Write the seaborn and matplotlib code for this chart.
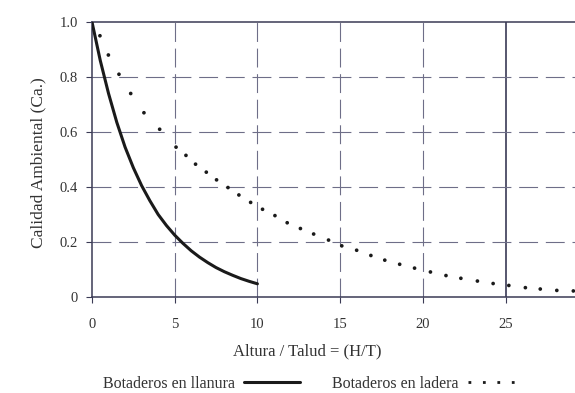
import matplotlib
matplotlib.use("Agg")

import matplotlib.pyplot as plt
from matplotlib.lines import Line2D
import pandas as pd
import seaborn as sns

# -- data ------------------------------------------------------------
llanura_x = [0, 0.25, 0.5, 0.75, 1, 1.5, 2, 2.5, 3, 3.5, 4, 4.5, 5, 5.5, 6, 6.5, 7, 7.5,
             8, 8.5, 9, 9.5, 10]
llanura_y = [1.0, 0.93, 0.86, 0.80, 0.74, 0.635, 0.545, 0.47, 0.405, 0.35, 0.30, 0.26,
             0.225, 0.195, 0.168, 0.145, 0.125, 0.107, 0.092, 0.079, 0.067, 0.057, 0.048]

ladera_x = [0.48, 0.99, 1.63, 2.34, 3.14, 4.09, 5.08, 5.68, 6.26, 6.91, 7.53, 8.22, 8.88,
            9.59, 10.31, 11.06, 11.8, 12.6, 13.4, 14.3, 15.1, 16.0, 16.86, 17.7, 18.6,
            19.5, 20.46, 21.4, 22.3, 23.3, 24.25, 25.2, 26.2, 27.1, 28.1, 29.1]
ladera_y = [0.95, 0.88, 0.81, 0.74, 0.67, 0.61, 0.545, 0.515, 0.483, 0.454, 0.426, 0.398,
            0.371, 0.344, 0.319, 0.296, 0.27, 0.249, 0.229, 0.207, 0.186, 0.17, 0.151,
            0.134, 0.119, 0.105, 0.091, 0.078, 0.068, 0.058, 0.049, 0.042, 0.034, 0.029,
            0.024, 0.022]

x_ticks = [0, 5, 10, 15, 20, 25]
y_ticks = [0, 0.2, 0.4, 0.6, 0.8, 1.0]
y_ticklabels = ["0", "0.2", "0.4", "0.6", "0.8", "1.0"]

# -- style -----------------------------------------------------------
sns.set_theme(style="white")
plt.rcParams["font.family"] = ["Liberation Serif", "DejaVu Serif"]
plt.rcParams["text.color"] = "#333333"

INK = "#3a3a55"
GRID = "#6e6e88"
TXT = "#333333"

fig = plt.figure(figsize=(5.75, 3.93), dpi=100)
ax = fig.add_axes([92 / 575, 96 / 393, 483 / 575, 275 / 393])

df_l = pd.DataFrame({"x": llanura_x, "y": llanura_y})
df_d = pd.DataFrame({"x": ladera_x, "y": ladera_y})

sns.lineplot(data=df_l, x="x", y="y", color="#1a1a1a", linewidth=2.2, ax=ax, zorder=4)
sns.scatterplot(data=df_d, x="x", y="y", color="#1a1a1a", marker="o", s=7,
                edgecolor="none", ax=ax, zorder=4)

ax.set_xlim(0, 29.2)
ax.set_ylim(0, 1.0)
ax.set_xticks(x_ticks)
ax.set_xticklabels([str(t) for t in x_ticks])
ax.set_yticks(y_ticks)
ax.set_yticklabels(y_ticklabels)

# dashed grid, solid line at 25
for t in x_ticks[1:-1]:
    ax.axvline(t, color=GRID, linewidth=0.8, dashes=(17, 6), zorder=1)
ax.axvline(25, color=INK, linewidth=1.2, zorder=1)
for t in y_ticks[1:-1]:
    ax.axhline(t, color=GRID, linewidth=0.8, dashes=(17, 7), zorder=1)

for side in ["left", "bottom", "top"]:
    ax.spines[side].set_color(INK)
    ax.spines[side].set_linewidth(1.1)
ax.spines["right"].set_visible(False)

ax.tick_params(axis="x", direction="out", length=4, width=0.8, color=INK,
               pad=11, labelsize=10.5, labelcolor=TXT, bottom=True)
ax.tick_params(axis="y", direction="out", length=4, width=0.8, color=INK,
               pad=6, labelsize=10.5, labelcolor=TXT, left=True)

ax.set_xlabel("Altura / Talud = (H/T)", fontsize=12, color=TXT)
ax.xaxis.set_label_coords(0.445, -0.17)
ax.set_ylabel("Calidad Ambiental (Ca.)", fontsize=12.5, color=TXT)
ax.yaxis.set_label_coords(-0.095, 0.49)

handles = [
    Line2D([], [], color="#1a1a1a", linewidth=2.2),
    Line2D([], [], color="#1a1a1a", linewidth=2.0, linestyle=(0, (1, 4.2))),
]
fig.legend(handles, ["Botaderos en llanura", "Botaderos en ladera"],
           loc="center", bbox_to_anchor=(0.545, 0.024), ncol=2, frameon=False,
           markerfirst=False, handlelength=3.5, columnspacing=2.0, handletextpad=0.6,
           fontsize=11.5)

fig.savefig("out.png", dpi=100)
